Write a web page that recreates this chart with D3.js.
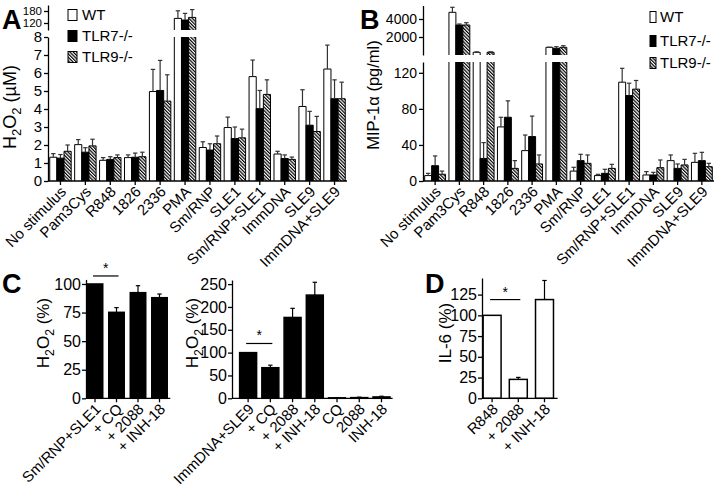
<!DOCTYPE html>
<html><head><meta charset="utf-8">
<script src="https://cdn.jsdelivr.net/npm/d3@7"></script>
<style>body{margin:0;background:#fff} text{font-family:"Liberation Sans",Arial,sans-serif;fill:#000}</style>
</head><body><svg id="c" width="725" height="485"></svg>
<script>
// ---------- DATA ----------
const series = ["WT", "TLR7-/-", "TLR9-/-"];
const catsAB = ["No stimulus","Pam3Cys","R848","1826","2336","PMA","Sm/RNP","SLE1","Sm/RNP+SLE1","ImmDNA","SLE9","ImmDNA+SLE9"];
// Panel A: H2O2 (µM) mean and mean+SEM
const aWT      = [1.32,2.02,1.15,1.30,4.97,143,1.86,2.97,5.80,1.50,4.14,6.22];
const aWTerr   = [1.52,2.30,1.30,1.45,6.20,181,2.18,3.55,6.72,1.65,5.07,7.55];
const aTLR7    = [1.27,1.60,1.20,1.32,5.03,135,1.72,2.36,4.02,1.25,3.10,4.57];
const aTLR7err = [1.47,1.85,1.35,1.55,6.70,168,2.07,3.00,5.03,1.45,3.87,5.62];
const aTLR9    = [1.65,1.95,1.30,1.35,4.44,148,2.07,2.40,4.81,1.20,2.75,4.57];
const aTLR9err = [2.00,2.32,1.45,1.60,5.90,187,2.50,2.88,5.62,1.33,3.59,5.49];
// Panel B: MIP-1α (pg/ml)
const bWT      = [6.0,4744,300,60.0,33.7,855,11.0,6.0,109.6,6.7,22.6,20.7];
const bWTerr   = [8.5,5300,350,70.7,51.0,860,15.2,7.4,125.0,10.4,28.9,30.7];
const bTLR7    = [17.0,3333,25.0,70.7,49.3,744,22.6,8.5,94.8,6.7,14.0,22.6];
const bTLR7err = [27.8,3444,42.6,88.9,72.0,922,29.6,13.0,108.5,9.6,18.9,31.8];
const bTLR9    = [7.5,3333,300,14.0,18.9,855,19.6,14.0,101.9,14.8,17.8,15.9];
const bTLR9err = [11.0,3590,360,22.6,28.9,1033,28.9,18.5,111.5,23.3,24.0,19.6];
const ticksALow = [0,1,2,3,4,5,6,7,8], ticksAUp = [120,180];
const ticksBLow = [0,40,80,120], ticksBUp = [2000,4000];
// Panel C
const catsC1 = ["Sm/RNP+SLE1","+ CQ","+ 2088","+ INH-18"];
const valsC1 = [100,75.2,92.4,88.0];
const errC1  = [100,79.3,98.5,91.2];
const catsC2 = ["ImmDNA+SLE9","+ CQ","+ 2088","+ INH-18","CQ","2088","INH-18"];
const valsC2 = [100,67,177,226,1,1.5,3];
const errC2  = [100,72.5,197,254,1.5,2.5,4.5];
const ticksC1 = [0,25,50,75,100], ticksC2 = [0,50,100,150,200,250];
// Panel D
const catsD = ["R848","+ 2088","+ INH-18"];
const valsD = [100,22.8,119];
const errD  = [100,25.2,142];
const ticksD = [0,25,50,75,100,125];

// ---------- DRAW ----------
const svg = d3.select("#c");
const defs = svg.append("defs");
const pat = defs.append("pattern").attr("id","hatch").attr("patternUnits","userSpaceOnUse")
  .attr("width",2.4).attr("height",2.4).attr("patternTransform","rotate(-45)");
pat.append("rect").attr("width",2.4).attr("height",2.4).attr("fill","#fff");
pat.append("rect").attr("width",1.2).attr("height",2.4).attr("fill","#000");
const fills = ["#fff","#000","url(#hatch)"];
const AX = 1.3;

function subLabel(g, x, y, parts, size) {
  const t = g.append("text").attr("transform",`translate(${x},${y}) rotate(-90)`)
    .attr("text-anchor","middle").style("font-size",size+"px");
  let sub = false;
  parts.forEach(([s,isSub])=>{
    const ts = t.append("tspan").text(s);
    if (isSub && !sub) { ts.attr("dy", size*0.3).style("font-size",(size*0.72)+"px"); sub = true; }
    else if (isSub) { ts.style("font-size",(size*0.72)+"px"); }
    else if (!isSub && sub) { ts.attr("dy", -size*0.3); sub = false; }
  });
}

function styleAxis(g, fs) {
  g.selectAll("path,line").attr("stroke","#000").attr("stroke-width",AX);
  g.selectAll("text").style("font-size",fs+"px").attr("fill","#000");
}

function xLabels(g, x, cats, y0, fs) {
  cats.forEach(c=>{
    const cx = x(c)+x.bandwidth()/2;
    g.append("line").attr("x1",cx).attr("x2",cx).attr("y1",y0).attr("y2",y0+4)
      .attr("stroke","#000").attr("stroke-width",AX);
    g.append("text").attr("transform",`translate(${cx+3},${y0+8}) rotate(-45)`)
      .attr("text-anchor","end").attr("dy","0.35em").style("font-size",fs+"px").text(c);
  });
}

function errBar(g, cx, y1, y2, col) {
  g.append("line").attr("x1",cx).attr("x2",cx).attr("y1",y1).attr("y2",y2).attr("stroke",col).attr("stroke-width",1.2);
  g.append("line").attr("x1",cx-2.2).attr("x2",cx+2.2).attr("y1",y2).attr("y2",y2).attr("stroke",col).attr("stroke-width",1.2);
}

function brokenPanel(o) {
  const g = svg.append("g");
  const x = d3.scaleBand().domain(catsAB).range(o.xr).paddingInner(o.pi).paddingOuter(o.po);
  const xs = d3.scaleBand().domain(series).range([0, x.bandwidth()]);
  const yL = d3.scaleLinear().domain(o.lowDom).range(o.lowRange);
  const yU = d3.scaleLinear().domain(o.upDom).range(o.upRange);
  const lowMax = o.lowDom[1];
  series.forEach((s,si)=>{
    catsAB.forEach((c,ci)=>{
      const v = o.vals[si][ci], e = o.errs[si][ci];
      const bx = x(c)+xs(s), w = xs.bandwidth();
      const y0 = yL(0), lt = yL(Math.min(v,lowMax));
      g.append("rect").attr("x",bx).attr("y",lt).attr("width",w).attr("height",y0-lt).attr("fill",fills[si]);
      let ptop;
      if (v <= lowMax) {
        g.append("path").attr("d",`M${bx},${y0}V${lt}H${bx+w}V${y0}`).attr("fill","none").attr("stroke","#000").attr("stroke-width",1);
        ptop = yL;
      } else {
        g.append("path").attr("d",`M${bx},${y0}V${lt}M${bx+w},${lt}V${y0}`).attr("fill","none").attr("stroke","#000").attr("stroke-width",1);
        const ub = yU(o.upDom[0]), ut = yU(v);
        g.append("rect").attr("x",bx).attr("y",ut).attr("width",w).attr("height",ub-ut).attr("fill",fills[si]);
        g.append("path").attr("d",`M${bx},${ub}V${ut}H${bx+w}V${ub}`).attr("fill","none").attr("stroke","#000").attr("stroke-width",1);
        ptop = yU;
      }
      if (e > v) errBar(g, bx+w/2, ptop(v), ptop(e), "#333");
    });
  });
  const ax1 = g.append("g").attr("transform",`translate(${o.yx},0)`)
    .call(d3.axisLeft(yL).tickValues(o.lowTicks).tickFormat(d3.format("d")).tickSize(4).tickSizeOuter(0).tickPadding(2));
  styleAxis(ax1, o.fsTick);
  const ax2 = g.append("g").attr("transform",`translate(${o.yx},0)`)
    .call(d3.axisLeft(yU).tickValues(o.upTicks).tickFormat(d3.format("d")).tickSize(4).tickSizeOuter(0).tickPadding(2));
  styleAxis(ax2, o.fsUp);
  g.append("line").attr("x1",o.yx).attr("x2",o.xr[1]).attr("y1",yL(0)).attr("y2",yL(0)).attr("stroke","#000").attr("stroke-width",AX);
  xLabels(g, x, catsAB, yL(0), o.fsX);
  return g;
}

// Panel A
brokenPanel({xr:[48,347], pi:0.14, po:0.07, yx:48,
  lowDom:[0,8], lowRange:[181,37], upDom:[85,210], upRange:[30,5],
  lowTicks:ticksALow, upTicks:ticksAUp, fsTick:15, fsUp:11.5, fsX:15,
  vals:[aWT,aTLR7,aTLR9], errs:[aWTerr,aTLR7err,aTLR9err]});
// Panel B
brokenPanel({xr:[423,714], pi:0.14, po:0.07, yx:423,
  lowDom:[0,132], lowRange:[181,62], upDom:[0,5500], upRange:[55,5.5],
  lowTicks:ticksBLow, upTicks:ticksBUp, fsTick:14, fsUp:14, fsX:15,
  vals:[bWT,bTLR7,bTLR9], errs:[bWTerr,bTLR7err,bTLR9err]});

// legends
function legend(x, tx, ys, bw, bh) {
  const g = svg.append("g");
  series.forEach((s,i)=>{
    g.append("rect").attr("x",x).attr("y",ys[i]-bh/2).attr("width",bw).attr("height",bh)
      .attr("fill",fills[i]).attr("stroke","#000").attr("stroke-width",1);
    g.append("text").attr("x",tx).attr("y",ys[i]).attr("dy","0.36em").style("font-size","15px").text(s);
  });
}
legend(68, 82, [15,36,57], 9, 11);
legend(650, 660, [17,41,63], 6, 11);

// y labels A,B
subLabel(svg, 16, 107, [["H",false],["2",true],["O",false],["2",true],[" (µM)",false]], 18);
svg.append("text").attr("transform","translate(379,95) rotate(-90)").attr("text-anchor","middle")
  .style("font-size","16.5px").text("MIP-1α (pg/ml)");

// simple panels
function simplePanel(o) {
  const g = svg.append("g");
  const x = d3.scaleBand().domain(o.cats).range(o.xr).paddingInner(o.pi).paddingOuter(o.pi/2);
  const y = d3.scaleLinear().domain(o.dom).range([398.3, o.top]);
  o.cats.forEach((c,i)=>{
    const bx = x(c), w = x.bandwidth(), v = o.vals[i];
    g.append("rect").attr("x",bx).attr("y",y(v)).attr("width",w).attr("height",y(0)-y(v))
      .attr("fill",o.fill).attr("stroke","#000").attr("stroke-width",1.5);
    if (o.errs[i] > v) errBar(g, bx+w/2, y(v), y(o.errs[i]), "#000");
  });
  const ax = g.append("g").attr("transform",`translate(${o.yx},0)`)
    .call(d3.axisLeft(y).tickValues(o.ticks).tickSize(4).tickSizeOuter(0).tickPadding(1));
  styleAxis(ax, 16);
  g.append("line").attr("x1",o.yx).attr("x2",o.xr[1]).attr("y1",y(0)).attr("y2",y(0)).attr("stroke","#000").attr("stroke-width",AX);
  xLabels(g, x, o.cats, y(0), 15);
  const s0 = x(o.cats[o.sig[0]])+x.bandwidth()/2, s1 = x(o.cats[o.sig[1]])+x.bandwidth()/2;
  const sy = y(o.sigY);
  g.append("line").attr("x1",s0-2).attr("x2",s1+2).attr("y1",sy).attr("y2",sy).attr("stroke","#000").attr("stroke-width",1.2);
  g.append("text").attr("x",(s0+s1)/2).attr("y",sy-3).attr("text-anchor","middle").style("font-size","14px").text("*");
  return g;
}
simplePanel({cats:catsC1, vals:valsC1, errs:errC1, xr:[84.25,170.25], pi:0.28, dom:[0,104], top:279.4,
  yx:86, ticks:ticksC1, fill:"#000", sig:[0,1], sigY:107});
simplePanel({cats:catsC2, vals:valsC2, errs:errC2, xr:[237,392.6], pi:0.236, dom:[0,259], top:280,
  yx:232, ticks:ticksC2, fill:"#000", sig:[0,1], sigY:120});
simplePanel({cats:catsD, vals:valsD, errs:errD, xr:[479,557.6], pi:0.314, dom:[0,145], top:278,
  yx:482, ticks:ticksD, fill:"#fff", sig:[0,1], sigY:119});

subLabel(svg, 49, 333, [["H",false],["2",true],["O",false],["2",true],[" (%)",false]], 17);
subLabel(svg, 198, 333, [["H",false],["2",true],["O",false],["2",true],[" (%)",false]], 17);
svg.append("text").attr("transform","translate(451,333) rotate(-90)").attr("text-anchor","middle")
  .style("font-size","17px").text("IL-6 (%)");

// panel letters
[["A",2,29],["B",360,29],["C",2,293],["D",425,293]].forEach(([t,x,y])=>{
  svg.append("text").attr("x",x).attr("y",y).style("font-size","27px").style("font-weight","bold").text(t);
});
</script></body></html>
